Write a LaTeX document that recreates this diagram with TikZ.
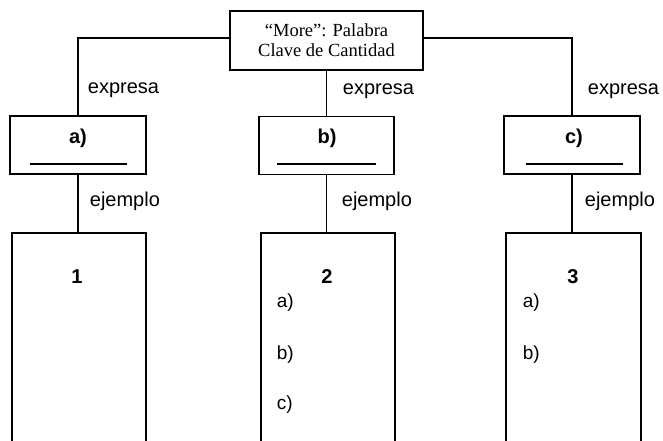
\documentclass[tikz,border=0pt]{standalone}
\usepackage{fontspec}
\setmainfont{Liberation Sans}
\newfontfamily\titleface{Liberation Serif}
\begin{document}
\begin{tikzpicture}[x=1pt,y=-1pt,line width=1.8pt,
  box/.style={draw,rectangle,inner sep=0pt,minimum height=58pt},
  lbl/.style={font=\fontsize{20}{20}\selectfont,anchor=west,inner sep=0pt},
  head/.style={font=\bfseries\fontsize{20}{20}\selectfont,inner sep=0pt},
  item/.style={font=\fontsize{19}{19}\selectfont,anchor=west,inner sep=0pt}]
\clip (0,0) rectangle (663,441);
\fill[white] (0,0) rectangle (663,441);

% top concept
\node[box,minimum width=193pt,minimum height=59pt,align=center,
      font=\titleface\fontsize{18.5}{20}\selectfont] (top) at (326.5,40.5)
      {“More”: Palabra\\Clave de Cantidad};

% middle boxes
\node[box,minimum width=136pt] (ba) at (78,145) {};
\node[box,minimum width=135pt] (bb) at (326.5,145.5) {};
\node[box,minimum width=136pt] (bc) at (572,145) {};
\node[head] (ta) at (78,138) {a)};
\node[head] (tb) at (327,138) {b)};
\node[head] (tc) at (574,138) {c)};
\draw[line width=1.5pt] (30,164) -- (127,164);
\draw[line width=1.5pt] (277,164) -- (376,164);
\draw[line width=1.5pt] (526,164) -- (623,164);

% bottom boxes (open at the lower edge)
\node[box,minimum width=134pt,minimum height=240pt,anchor=north] (b1) at (79,232) {};
\node[box,minimum width=134pt,minimum height=240pt,anchor=north] (b2) at (328,232) {};
\node[box,minimum width=135pt,minimum height=240pt,anchor=north] (b3) at (573.5,232) {};
\node[head] (n1) at (77,277) {1};
\node[head] (n2) at (327,277) {2};
\node[head] (n3) at (573,277) {3};
\node[item] (i2a) at (276,303) {a)};
\node[item] (i2b) at (276,355) {b)};
\node[item] (i2c) at (276,405) {c)};
\node[item] (i3a) at (522,303) {a)};
\node[item] (i3b) at (522,355) {b)};

% connectors
\draw ([yshift=2.5pt]top.west) -| (ba.north);
\draw ([yshift=2.5pt]top.east) -| (bc.north);
\draw (top.south -| bb.north) -- (bb.north);
\draw (ba.south) -- (b1.north -| ba.south);
\draw (bb.south) -- (b2.north -| bb.south);
\draw (bc.south) -- (b3.north -| bc.south);

% connector labels
\node[lbl] (e1) at (87,90) {expresa};
\node[lbl] (e2) at (342,91) {expresa};
\node[lbl] (e3) at (587,91) {expresa};
\node[lbl] (x1) at (89,201) {ejemplo};
\node[lbl] (x2) at (341,201) {ejemplo};
\node[lbl] (x3) at (584,201) {ejemplo};
\end{tikzpicture}
\end{document}
